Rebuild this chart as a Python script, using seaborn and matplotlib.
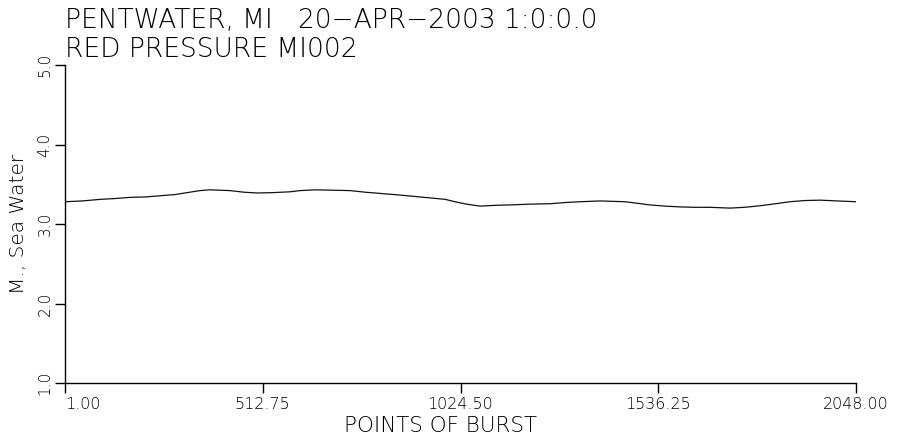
import numpy as np
import pandas as pd
import matplotlib
matplotlib.use("Agg")
import matplotlib.pyplot as plt
import seaborn as sns

# burst point index and pressure (m of sea water)
points = [1, 46, 92, 130, 169, 208, 247, 285, 324, 350, 376, 402, 428, 464, 500,
          540, 583, 609, 648, 694, 739, 778, 816, 868, 920, 985, 1010, 1040,
          1075, 1115, 1153, 1205, 1256, 1295, 1334, 1386, 1450, 1483, 1515,
          1553, 1593, 1630, 1670, 1722, 1760, 1800, 1840, 1877, 1915, 1955,
          2000, 2048]
pressure = [3.28, 3.29, 3.31, 3.32, 3.335, 3.34, 3.355, 3.37, 3.40, 3.42, 3.43,
            3.425, 3.42, 3.40, 3.39, 3.395, 3.405, 3.42, 3.43, 3.425, 3.42, 3.40,
            3.385, 3.364, 3.34, 3.31, 3.28, 3.25, 3.225, 3.235, 3.24, 3.25,
            3.255, 3.27, 3.28, 3.29, 3.28, 3.26, 3.24, 3.225, 3.215, 3.21,
            3.21, 3.20, 3.21, 3.23, 3.255, 3.28, 3.295, 3.30, 3.29, 3.28]

x_ticks = [1.00, 512.75, 1024.50, 1536.25, 2048.00]
x_labels = ["1.00", "512.75", "1024.50", "1536.25", "2048.00"]
y_ticks = [1.0, 2.0, 3.0, 4.0, 5.0]
y_labels = ["1.0", "2.0", "3.0", "4.0", "5.0"]

df = pd.DataFrame({"point": points, "pressure": pressure})

sns.set_style("ticks")
plt.rcParams["font.family"] = ["DejaVu Sans"]
plt.rcParams["text.color"] = "black"
plt.rcParams["axes.labelcolor"] = "black"

fig = plt.figure(figsize=(9.07, 4.41), dpi=100)
ax = fig.add_axes([65 / 907, 1 - 383 / 441, (856 - 65) / 907, (383 - 65) / 441])

sns.lineplot(data=df, x="point", y="pressure", ax=ax, color="#111111", linewidth=0.9)

ax.set_xlim(1, 2048)
ax.set_ylim(1.0, 5.0)
ax.set_xticks(x_ticks)
ax.set_xticklabels(x_labels, fontsize=11.5, fontweight="light")
ax.set_yticks(y_ticks)
ax.set_yticklabels(y_labels, fontsize=11, fontweight="light", rotation=90, va="center")
ax.get_xticklabels()[0].set_ha("left")
ax.tick_params(direction="out", length=7, width=1, colors="black", pad=3)
ax.tick_params(axis="y", pad=2)

sns.despine(ax=ax)
for s in ["left", "bottom"]:
    ax.spines[s].set_color("black")
    ax.spines[s].set_linewidth(1)

ax.set_xlabel("POINTS OF BURST", fontsize=15.5, fontweight="light", labelpad=4)
ax.xaxis.set_label_coords((441 - 65) / 791, -0.105)
ax.set_ylabel("M., Sea Water", fontsize=14.5, fontweight="light", labelpad=7)

fig.text(65 / 907, 1 - 28 / 441, "PENTWATER, MI   20\u2212APR\u22122003 1:0:0.0",
         fontsize=19, fontweight="light", va="baseline", ha="left")
fig.text(65 / 907, 1 - 57 / 441, "RED PRESSURE MI002",
         fontsize=19, fontweight="light", va="baseline", ha="left")

fig.savefig("out.png", dpi=100)
